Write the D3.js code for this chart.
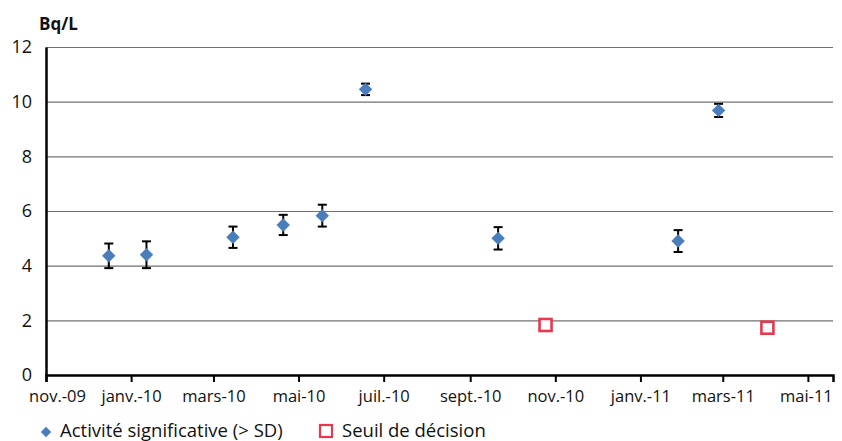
<!DOCTYPE html>
<html><head><meta charset="utf-8">
<script src="https://cdn.jsdelivr.net/npm/d3@7"></script>
<style>body{margin:0;background:#fff;}svg{display:block;font-family:"Open Sans",sans-serif;}</style>
</head><body>
<svg id="c" width="842" height="441"></svg>
<script>
const sigDates = ["2009-12-16","2010-01-12","2010-03-15","2010-04-20","2010-05-18","2010-06-18","2010-09-21","2011-01-28","2011-02-26"];
const sigValues = [4.36, 4.40, 5.04, 5.49, 5.83, 10.45, 5.00, 4.90, 9.68];
const sigErrors = [0.45, 0.49, 0.39, 0.37, 0.40, 0.21, 0.41, 0.40, 0.24];
const sdDates = ["2010-10-25","2011-04-02"];
const sdValues = [1.83, 1.73];
const yTicks = [0,2,4,6,8,10,12];
const xTickDates = ["2009-11-01","2010-01-01","2010-03-01","2010-05-01","2010-07-01","2010-09-01","2010-11-01","2011-01-01","2011-03-01","2011-05-01"];
const xTickLabels = ["nov.-09","janv.-10","mars-10","mai-10","juil.-10","sept.-10","nov.-10","janv.-11","mars-11","mai-11"];
const yUnit = "Bq/L";
const legendLabels = ["Activité significative (> SD)","Seuil de décision"];

const parse = d3.utcParse("%Y-%m-%d");
const svg = d3.select("#c");
const L = 46, R = 833, T = 47, B = 375;
const x = d3.scaleUtc().domain([parse("2009-11-01"), parse("2011-05-19")]).range([L, R]);
const y = d3.scaleLinear().domain([0, 12]).range([B, T]);
const blue = "#4a7ebb", red = "#e8384f";

// gridlines
svg.append("g").selectAll("line").data(yTicks.filter(d => d > 0)).join("line")
  .attr("x1", L).attr("x2", R).attr("y1", d => y(d) + 0.5).attr("y2", d => y(d) + 0.5)
  .attr("stroke", "#707070").attr("stroke-width", 1.2);

// y axis
const ya = svg.append("g").attr("transform", `translate(${L},0)`)
  .call(d3.axisLeft(y).tickValues(yTicks).tickSize(0).tickPadding(14));
ya.select(".domain").attr("stroke", "#000").attr("stroke-width", 2.5);
ya.selectAll("text").attr("font-size", 18).attr("fill", "#111").attr("font-family", "Open Sans");

// x axis
const xa = svg.append("g").attr("transform", `translate(0,${B})`)
  .call(d3.axisBottom(x).tickValues(xTickDates.map(parse)).tickFormat((d, i) => xTickLabels[i]).tickSizeOuter(0).tickSize(7).tickPadding(8));
xa.select(".domain").attr("stroke", "#000").attr("stroke-width", 2.5);
xa.selectAll(".tick line").attr("stroke", "#000").attr("stroke-width", 2);
xa.selectAll("text").attr("font-size", 16.5).attr("fill", "#111").attr("font-family", "Open Sans");
xa.selectAll(".tick").filter((d, i) => i === 0).select("text").attr("dx", 11);
xa.selectAll(".tick").filter((d, i) => i === xTickDates.length - 1).select("text").attr("dx", -2);

// unit label
svg.append("text").attr("x", 39).attr("y", 30).attr("font-size", 17).attr("font-weight", "bold")
  .attr("fill", "#111").text(yUnit);

// error bars
const sig = sigDates.map((d, i) => ({date: parse(d), v: sigValues[i], e: sigErrors[i]}));
const eb = svg.append("g").attr("stroke", "#000").attr("stroke-width", 2);
eb.selectAll("line.v").data(sig).join("line").attr("class", "v")
  .attr("x1", d => x(d.date)).attr("x2", d => x(d.date))
  .attr("y1", d => y(d.v + d.e)).attr("y2", d => y(d.v - d.e));
eb.selectAll("line.t").data(sig).join("line").attr("class", "t")
  .attr("x1", d => x(d.date) - 4.5).attr("x2", d => x(d.date) + 4.5)
  .attr("y1", d => y(d.v + d.e)).attr("y2", d => y(d.v + d.e));
eb.selectAll("line.b").data(sig).join("line").attr("class", "b")
  .attr("x1", d => x(d.date) - 4.5).attr("x2", d => x(d.date) + 4.5)
  .attr("y1", d => y(d.v - d.e)).attr("y2", d => y(d.v - d.e));

// diamonds
const diamond = d3.symbol().type(d3.symbolSquare).size(90);
svg.append("g").selectAll("path").data(sig).join("path")
  .attr("d", diamond)
  .attr("transform", d => `translate(${x(d.date)},${y(d.v)}) rotate(45)`)
  .attr("fill", blue);

// squares
const sd = sdDates.map((d, i) => ({date: parse(d), v: sdValues[i]}));
svg.append("g").selectAll("rect").data(sd).join("rect")
  .attr("x", d => x(d.date) - 6).attr("y", d => y(d.v) - 6)
  .attr("width", 12).attr("height", 12)
  .attr("fill", "#fff").attr("stroke", red).attr("stroke-width", 2.6);

// legend
const lg = svg.append("g");
lg.append("path").attr("d", d3.symbol().type(d3.symbolSquare).size(55)())
  .attr("transform", "translate(46,432) rotate(45)").attr("fill", blue);
lg.append("text").attr("x", 60).attr("y", 437).attr("font-size", 18.5).attr("fill", "#111").text(legendLabels[0]);
lg.append("rect").attr("x", 320).attr("y", 425).attr("width", 12).attr("height", 12)
  .attr("fill", "#fff").attr("stroke", red).attr("stroke-width", 2.2);
lg.append("text").attr("x", 342).attr("y", 437).attr("font-size", 18.5).attr("fill", "#111").text(legendLabels[1]);
</script>
</body></html>
